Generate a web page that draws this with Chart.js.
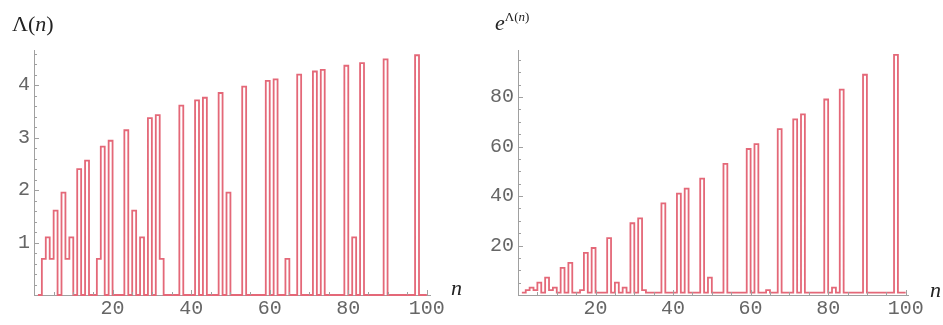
<!DOCTYPE html>
<html>
<head>
<meta charset="utf-8">
<script src="https://cdn.jsdelivr.net/npm/chart.js@4"></script>
<style>
  body { margin: 0; background: #fff; width: 943px; height: 325px; position: relative; overflow: hidden; }
  canvas { position: absolute; top: 0; }
  .lbl { position: absolute; font-family: "Liberation Serif", "DejaVu Serif", serif; color: #222; font-size: 22px; line-height: 1; }
</style>
</head>
<body>
<canvas id="leftChart" width="470" height="325" style="left:0"></canvas>
<canvas id="rightChart" width="473" height="325" style="left:470px"></canvas>

<div class="lbl" style="left:12px;top:13px">Λ(<i>n</i>)</div>
<div class="lbl" style="left:495px;top:12px"><i>e</i><span style="font-size:13px;position:relative;top:-9px">Λ(<i>n</i>)</span></div>
<div class="lbl" style="left:451px;top:277px"><i>n</i></div>
<div class="lbl" style="left:930px;top:279px"><i>n</i></div>

<script>
// n = 1..100
const nValues = [
  1, 2, 3, 4, 5, 6, 7, 8, 9, 10,
  11, 12, 13, 14, 15, 16, 17, 18, 19, 20,
  21, 22, 23, 24, 25, 26, 27, 28, 29, 30,
  31, 32, 33, 34, 35, 36, 37, 38, 39, 40,
  41, 42, 43, 44, 45, 46, 47, 48, 49, 50,
  51, 52, 53, 54, 55, 56, 57, 58, 59, 60,
  61, 62, 63, 64, 65, 66, 67, 68, 69, 70,
  71, 72, 73, 74, 75, 76, 77, 78, 79, 80,
  81, 82, 83, 84, 85, 86, 87, 88, 89, 90,
  91, 92, 93, 94, 95, 96, 97, 98, 99, 100
];

// Λ(n)
const lambdaValues = [
  0, 0.69, 1.10, 0.69, 1.61, 0, 1.95, 0.69, 1.10, 0,
  2.40, 0, 2.56, 0, 0, 0.69, 2.83, 0, 2.94, 0,
  0, 0, 3.14, 0, 1.61, 0, 1.10, 0, 3.37, 0,
  3.43, 0.69, 0, 0, 0, 0, 3.61, 0, 0, 0,
  3.71, 0, 3.76, 0, 0, 0, 3.85, 0, 1.95, 0,
  0, 0, 3.97, 0, 0, 0, 0, 0, 4.08, 0,
  4.11, 0, 0, 0.69, 0, 0, 4.20, 0, 0, 0,
  4.26, 0, 4.29, 0, 0, 0, 0, 0, 4.37, 0,
  1.10, 0, 4.42, 0, 0, 0, 0, 0, 4.49, 0,
  0, 0, 0, 0, 0, 0, 4.57, 0, 0, 0
];

// e^Λ(n)
const expValues = [
  1, 2, 3, 2, 5, 1, 7, 2, 3, 1,
  11, 1, 13, 1, 1, 2, 17, 1, 19, 1,
  1, 1, 23, 1, 5, 1, 3, 1, 29, 1,
  31, 2, 1, 1, 1, 1, 37, 1, 1, 1,
  41, 1, 43, 1, 1, 1, 47, 1, 7, 1,
  1, 1, 53, 1, 1, 1, 1, 1, 59, 1,
  61, 1, 1, 2, 1, 1, 67, 1, 1, 1,
  71, 1, 73, 1, 1, 1, 1, 1, 79, 1,
  3, 1, 83, 1, 1, 1, 1, 1, 89, 1,
  1, 1, 1, 1, 1, 1, 97, 1, 1, 1
];

const xTicks = [20, 40, 60, 80, 100];
const leftYTicks = [1, 2, 3, 4];
const rightYTicks = [20, 40, 60, 80];

const lineColor = 'rgb(228, 104, 120)';
const axisColor = '#a0a0a0';
const tickFont = { family: '"Liberation Mono", "DejaVu Sans Mono", monospace', size: 20 };

// small Mathematica-style tick marks pointing into the plot
const tickMarks = {
  id: 'tickMarks',
  afterDraw(chart, args, o) {
    const { ctx, scales: { x, y } } = chart;
    const x0 = x.getPixelForValue(x.min);
    const y0 = y.getPixelForValue(0);
    ctx.save();
    ctx.strokeStyle = axisColor;
    ctx.lineWidth = 1;
    ctx.beginPath();
    const xr = Math.round(o.xMajor / o.xMinor);
    for (let i = 1; i * o.xMinor <= x.max; i++) {
      const px = Math.round(x.getPixelForValue(i * o.xMinor)) + 0.5;
      const len = i % xr === 0 ? 5 : 3;
      ctx.moveTo(px, y0);
      ctx.lineTo(px, y0 - len);
    }
    const yr = Math.round(o.yMajor / o.yMinor);
    for (let i = 1; i * o.yMinor <= y.max; i++) {
      const py = Math.round(y.getPixelForValue(i * o.yMinor)) + 0.5;
      const len = i % yr === 0 ? 5 : 3;
      ctx.moveTo(x0, py);
      ctx.lineTo(x0 + len, py);
    }
    ctx.stroke();
    ctx.restore();
  }
};

function makeChart(id, values, yTicks, opts) {
  return new Chart(document.getElementById(id).getContext('2d'), {
    type: 'line',
    data: {
      datasets: [{
        data: values.map((v, i) => ({ x: nValues[i], y: v })),
        stepped: 'before',
        borderColor: lineColor,
        borderWidth: 1.8,
        pointRadius: 0,
        fill: false,
        clip: false
      }]
    },
    options: {
      responsive: false,
      animation: false,
      devicePixelRatio: 1,
      layout: { padding: { left: 0, right: opts.padRight, top: 50, bottom: 0 } },
      plugins: {
        legend: { display: false },
        tooltip: { enabled: false },
        tickMarks: opts.marks
      },
      scales: {
        x: {
          type: 'linear',
          min: 0,
          max: opts.xMax,
          afterBuildTicks: s => { s.ticks = xTicks.map(v => ({ value: v })); },
          afterFit: s => { s.height = 30; },
          ticks: { font: tickFont, color: '#666', padding: 2, maxRotation: 0 },
          grid: { display: false, drawTicks: false },
          border: { color: axisColor, width: 1 }
        },
        y: {
          min: 0,
          max: opts.yMax,
          afterBuildTicks: s => { s.ticks = yTicks.map(v => ({ value: v })); },
          afterFit: s => { s.width = opts.yWidth; },
          ticks: { font: tickFont, color: '#666', padding: 4 },
          grid: { display: false, drawTicks: false },
          border: { color: axisColor, width: 1 }
        }
      }
    },
    plugins: [tickMarks]
  });
}

makeChart('leftChart', lambdaValues, leftYTicks, {
  padRight: 40, xMax: 100.8, yMax: 4.67, yWidth: 34,
  marks: { xMajor: 20, xMinor: 5, yMajor: 1, yMinor: 0.2 }
});

makeChart('rightChart', expValues, rightYTicks, {
  padRight: 35, xMax: 100.6, yMax: 99, yWidth: 48,
  marks: { xMajor: 20, xMinor: 5, yMajor: 20, yMinor: 5 }
});
</script>
</body>
</html>
